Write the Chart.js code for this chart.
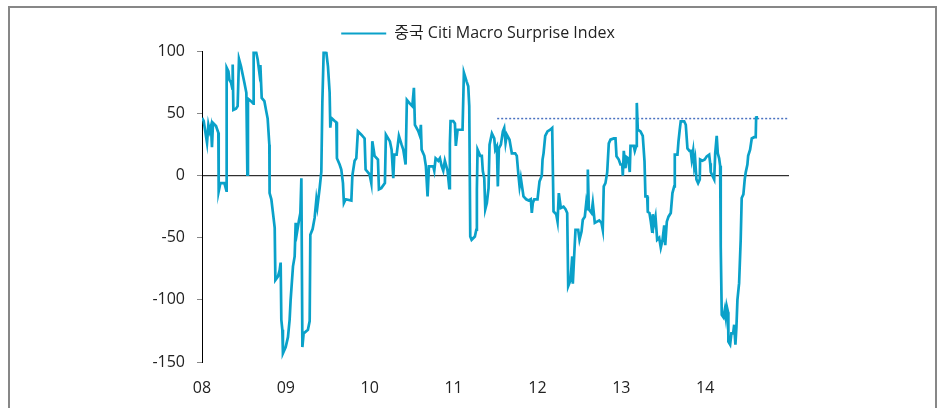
<!DOCTYPE html>
<html>
<head>
<meta charset="utf-8">
<title>중국 Citi Macro Surprise Index</title>
<script src="https://cdn.jsdelivr.net/npm/chart.js@4.4.1/dist/chart.umd.min.js"></script>
<style>
    html, body { margin: 0; padding: 0; background: #fff; }
    #wrap { position: relative; width: 938px; height: 408px; overflow: hidden; }
    #frame {
        position: absolute; left: 8px; top: 6px; width: 929px; height: 440px;
        border: 2px solid #878787; box-sizing: border-box;
    }
    #surpriseChart { position: absolute; left: 0; top: 0; }
</style>
</head>
<body>
<div id="wrap">
    <div id="frame"></div>
    <canvas id="surpriseChart" width="938" height="408"></canvas>
</div>
<script>
// dates are decimal years, values are index points
const dates = [
    2008.000, 2008.020, 2008.036, 2008.060, 2008.076, 2008.092, 2008.107, 2008.119, 2008.131, 2008.167,
    2008.195, 2008.199, 2008.219, 2008.267, 2008.291, 2008.294, 2008.315, 2008.327, 2008.346, 2008.362,
    2008.366, 2008.374, 2008.405, 2008.425, 2008.441, 2008.465, 2008.485, 2008.505, 2008.529, 2008.541,
    2008.548, 2008.584, 2008.613, 2008.616, 2008.644, 2008.664, 2008.684, 2008.696, 2008.712, 2008.744,
    2008.763, 2008.783, 2008.803, 2008.806, 2008.827, 2008.855, 2008.867, 2008.875, 2008.906, 2008.926,
    2008.938, 2008.946, 2008.958, 2008.965, 2008.998, 2009.025, 2009.045, 2009.057, 2009.085, 2009.105,
    2009.117, 2009.132, 2009.156, 2009.173, 2009.185, 2009.197, 2009.212, 2009.263, 2009.284, 2009.292,
    2009.319, 2009.343, 2009.364, 2009.376, 2009.403, 2009.423, 2009.435, 2009.451, 2009.483, 2009.502,
    2009.522, 2009.530, 2009.542, 2009.582, 2009.602, 2009.609, 2009.641, 2009.661, 2009.681, 2009.692,
    2009.713, 2009.781, 2009.793, 2009.820, 2009.840, 2009.859, 2009.900, 2009.939, 2009.951, 2009.999,
    2010.019, 2010.031, 2010.047, 2010.058, 2010.098, 2010.110, 2010.138, 2010.181, 2010.193, 2010.241,
    2010.261, 2010.281, 2010.293, 2010.321, 2010.348, 2010.380, 2010.400, 2010.428, 2010.443, 2010.479,
    2010.508, 2010.527, 2010.539, 2010.579, 2010.599, 2010.610, 2010.619, 2010.651, 2010.670, 2010.690,
    2010.706, 2010.758, 2010.770, 2010.786, 2010.818, 2010.837, 2010.857, 2010.877, 2010.896, 2010.928,
    2010.949, 2010.956, 2010.964, 2010.996, 2011.016, 2011.027, 2011.048, 2011.083, 2011.107, 2011.123,
    2011.155, 2011.175, 2011.187, 2011.199, 2011.215, 2011.254, 2011.271, 2011.278, 2011.286, 2011.318,
    2011.337, 2011.349, 2011.366, 2011.378, 2011.397, 2011.417, 2011.429, 2011.457, 2011.485, 2011.497,
    2011.516, 2011.528, 2011.540, 2011.564, 2011.588, 2011.604, 2011.620, 2011.635, 2011.667, 2011.695,
    2011.735, 2011.754, 2011.775, 2011.787, 2011.802, 2011.834, 2011.866, 2011.894, 2011.921, 2011.933,
    2011.945, 2011.962, 2012.001, 2012.025, 2012.052, 2012.061, 2012.073, 2012.093, 2012.120, 2012.153,
    2012.176, 2012.192, 2012.224, 2012.240, 2012.255, 2012.279, 2012.311, 2012.335, 2012.355, 2012.367,
    2012.395, 2012.415, 2012.422, 2012.446, 2012.454, 2012.486, 2012.502, 2012.526, 2012.541, 2012.565,
    2012.582, 2012.594, 2012.601, 2012.613, 2012.645, 2012.660, 2012.684, 2012.737, 2012.764, 2012.779,
    2012.791, 2012.811, 2012.832, 2012.851, 2012.871, 2012.911, 2012.931, 2012.943, 2012.970, 2012.990,
    2013.011, 2013.018, 2013.030, 2013.050, 2013.062, 2013.082, 2013.101, 2013.110, 2013.149, 2013.161,
    2013.178, 2013.185, 2013.197, 2013.229, 2013.256, 2013.277, 2013.288, 2013.309, 2013.316, 2013.336,
    2013.352, 2013.368, 2013.375, 2013.387, 2013.408, 2013.428, 2013.452, 2013.471, 2013.491, 2013.512,
    2013.524, 2013.543, 2013.563, 2013.590, 2013.610, 2013.631, 2013.638, 2013.670, 2013.682, 2013.697,
    2013.709, 2013.750, 2013.769, 2013.789, 2013.813, 2013.828, 2013.840, 2013.857, 2013.869, 2013.881,
    2013.896, 2013.916, 2013.936, 2013.940, 2013.968, 2013.995, 2014.019, 2014.048, 2014.060, 2014.067,
    2014.087, 2014.108, 2014.120, 2014.138, 2014.151, 2014.167, 2014.179, 2014.186, 2014.198, 2014.218,
    2014.234, 2014.246, 2014.257, 2014.274, 2014.277, 2014.298, 2014.313, 2014.334, 2014.346, 2014.361,
    2014.373, 2014.385, 2014.405, 2014.424, 2014.436, 2014.456, 2014.472, 2014.484, 2014.504, 2014.513,
    2014.536, 2014.556, 2014.584, 2014.603, 2014.608, 2014.615,
];

const surprise = [
    46.5, 44, 37, 26.5, 41, 36, 40, 23, 42.5, 40,
    34.5, -12.6, -6, -6, -12, 87, 84, 77, 75, 70,
    89.5, 53, 54, 56, 94, 88, 81.5, 75, 66.7, 0.8,
    62, 60, 58, 100, 100, 93.5, 83, 89, 62.6, 60,
    53, 46, 25, -14, -19, -35, -42, -84, -81, -76,
    -70, -116, -124, -143, -138, -130, -116, -100, -73, -65,
    -38, -46, -36, -30, -2, -138, -127, -124, -117, -47.6,
    -43, -34, -19, -25, -10, 3, 58.6, 100, 99, 88,
    67, 38.7, 46.5, 44, 43, 14, 9, 5, -6, -22,
    -19, -20, 0, 12, 14, 35.7, 33, 30, 5, 1,
    -6, 27.7, 21, 16, 13, -11, -10, -6, 33, 27.6,
    21, -2, 17, 17, 32, 25, 21, 9, 61, 58,
    56, 70.7, 41, 36, 32, 41, 21, 16, 7.5, -16.7,
    7.5, 7.5, 4, 14, 12, 14, 8, 4, 12, 4,
    -10, 26, 44, 44, 42, 24, 37, 37, 37, 83,
    76, 72, 56, -49, -51.6, -49, -43.5, -11, 21, 16,
    16, 3.5, -2, -27, -22, -10, 25, 34, 30, 21,
    23.6, -8.6, 22, 25, 35.7, 38.4, 26.5, 33, 29, 18,
    18, 16, -0.5, -8.6, -2, -16.7, -19, -20, -19, -30,
    -22, -19, -19, -4.6, 0, 13, 18, 32, 35.7, 37,
    38.4, -28.8, -31, -37, -14, -26, -25, -27, -30, -89,
    -84, -65, -87, -54, -43.5, -43.5, -51.6, -45, -35.5, -33,
    -22, -27, 5, -27, -30, -22, -38, -36, -38, -43.5,
    -8.6, -6, 2.7, 26, 29, 30, 30, 15.6, 13, 9,
    9, 0, 20, 6, 15, 14, 3, 24, 24, 20,
    24, 58.6, 37, 35.7, 32, 11.5, -16.7, -16.7, -29, -30,
    -37, -45, -31, -40, -33, -51.6, -50, -58, -52, -40,
    -56, -37, -33, -30, -14, -8.6, 17, 17, 27.7, 37,
    43.8, 43.8, 41, 22, 20, 20, 13, 20, 8, 13,
    -3, -6, -3, 13, 12, 13, 15.6, 17, 10, 3,
    0, -3, 18, 32, 18, 14, 8, -57, -112, -114,
    -108, -114, -105, -110, -133.6, -136, -127, -127, -120, -136,
    -122, -100, -86.5, -51.6, -18, -15, -3, 2.7, 9, 16,
    21, 30, 31, 31, 46.5, 48,
];

// previous-high reference line and zero line
const highLineDates = [2011.52, 2015];
const highLineValues = [46, 46];
const zeroLineDates = [2008, 2015];
const zeroLineValues = [0, 0];

const yearTicks = ["08", "09", "10", "11", "12", "13", "14"];

const seriesLabel = "중국 Citi Macro Surprise Index";
const lineColor = "#0aa1c9";
const textColor = "#222222";
const fontFamily = "'Open Sans', 'Noto Sans CJK KR', sans-serif";

const toPoints = (xs, ys) => xs.map((x, i) => ({ x: x, y: ys[i] }));

const initSurpriseChart = () => {
    const chart = new Chart(document.getElementById("surpriseChart"), {
        type: "line",
        data: {
            datasets: [
                {
                    label: seriesLabel,
                    data: toPoints(dates, surprise),
                    borderColor: lineColor,
                    backgroundColor: lineColor,
                    borderWidth: 2.7,
                    pointRadius: 0,
                    tension: 0,
                },
                {
                    label: "zero",
                    data: toPoints(zeroLineDates, zeroLineValues),
                    borderColor: "#000000",
                    borderWidth: 1,
                    pointRadius: 0,
                },
                {
                    label: "high",
                    data: toPoints(highLineDates, highLineValues),
                    borderColor: "#4a72c0",
                    borderWidth: 1.5,
                    borderDash: [2, 2],
                    pointRadius: 0,
                },
            ],
        },
        options: {
            responsive: false,
            animation: false,
            layout: {
                padding: { top: 12.5, left: 167, right: 149, bottom: 0 },
            },
            plugins: {
                tooltip: { enabled: false },
                legend: {
                    position: "top",
                    align: "center",
                    labels: {
                        boxWidth: 45,
                        boxHeight: 2,
                        padding: 13,
                        color: textColor,
                        font: { family: fontFamily, size: 16 },
                        generateLabels: (chart) =>
                            Chart.defaults.plugins.legend.labels
                                .generateLabels(chart)
                                .filter((item) => item.datasetIndex === 0)
                                .map((item) => ({ ...item, lineWidth: 0, fillStyle: lineColor })),
                    },
                },
            },
            scales: {
                x: {
                    type: "linear",
                    min: 2008,
                    max: 2015,
                    afterFit: (scale) => {
                        scale.height = 46;
                    },
                    grid: { display: false, drawTicks: false },
                    border: { display: false },
                    ticks: {
                        stepSize: 1,
                        padding: 17,
                        maxRotation: 0,
                        color: textColor,
                        font: { family: fontFamily, size: 16 },
                        callback: (value) => yearTicks[value - 2008] || "",
                    },
                },
                y: {
                    min: -150,
                    max: 100,
                    afterFit: (scale) => {
                        scale.width = 35;
                    },
                    grid: {
                        drawOnChartArea: false,
                        drawTicks: true,
                        tickLength: 5,
                        color: "#888888",
                    },
                    border: { display: true, color: "#000000", width: 1 },
                    ticks: {
                        stepSize: 50,
                        padding: 12,
                        color: textColor,
                        font: { family: fontFamily, size: 16 },
                    },
                },
            },
        },
        plugins: [
            {
                // y labels hang left of the narrow axis box; widen its clip area
                id: "labelRoom",
                afterLayout: function (chart) {
                    chart.scales.y.left = 100;
                },
            },
        ],
    });
    return { chart: chart };
};

window.chartSurprise = initSurpriseChart();
</script>
</body>
</html>
